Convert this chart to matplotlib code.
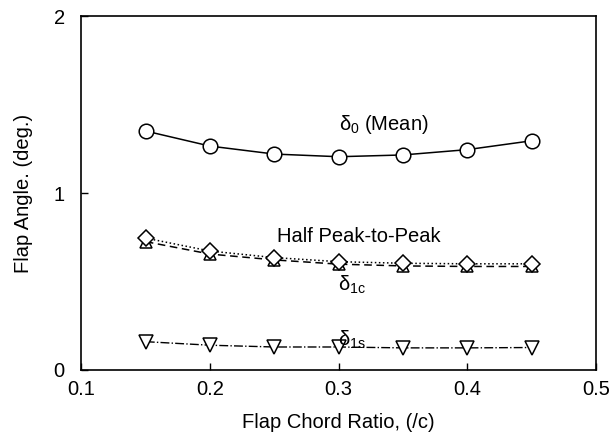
import matplotlib.pyplot as plt
import numpy as np

plt.rcParams['font.family'] = ['Liberation Sans', 'DejaVu Sans']
plt.rcParams['mathtext.fontset'] = 'custom'
plt.rcParams['mathtext.rm'] = 'Liberation Sans'
plt.rcParams['mathtext.it'] = 'Liberation Sans'

# flap chord ratio
ratio = [0.15, 0.20, 0.25, 0.30, 0.35, 0.40, 0.45]
# flap angles (deg.)
mean = [1.35, 1.265, 1.22, 1.205, 1.215, 1.245, 1.295]
amp_p2p = [0.745, 0.672, 0.635, 0.612, 0.603, 0.600, 0.600]
d1c = [0.725, 0.655, 0.622, 0.598, 0.588, 0.585, 0.585]
d1s = [0.16, 0.14, 0.13, 0.13, 0.125, 0.125, 0.127]

fig = plt.figure(figsize=(6.16, 4.41), dpi=100)
ax = fig.add_axes([0.1323, 0.161, 0.835, 0.8027])

ax.plot(ratio, mean, '-', color='k', lw=1.1, marker='o', ms=10.5,
        mfc='white', mec='k', mew=1.1, zorder=3)
ax.plot(ratio, d1c, '--', color='k', lw=1.1, marker='^', ms=8,
        mfc='white', mec='k', mew=1.1, zorder=3, dashes=(5, 3))
ax.plot(ratio, amp_p2p, ':', color='k', lw=1.1, marker='D', ms=8,
        mfc='white', mec='k', mew=1.1, zorder=4)
ax.plot(ratio, d1s, '-.', color='k', lw=1.0, marker='v', ms=9.5,
        mfc='white', mec='k', mew=1.1, zorder=3)

fs = 14.5
ax.text(0.335, 1.385, r'$\delta_0$ (Mean)', fontsize=fs, ha='center', va='center')
ax.text(0.316, 0.755, 'Half Peak-to-Peak', fontsize=fs, ha='center', va='center')
ax.text(0.31, 0.48, r'$\delta_{1c}$', fontsize=fs, ha='center', va='center')
ax.text(0.31, 0.17, r'$\delta_{1s}$', fontsize=fs, ha='center', va='center')

ax.set_xlim(0.1, 0.5)
ax.set_ylim(0, 2)
ax.set_xticks([0.1, 0.2, 0.3, 0.4, 0.5])
ax.set_xticklabels(['0.1', '0.2', '0.3', '0.4', '0.5'])
ax.set_yticks([0, 1, 2])
ax.tick_params(direction='in', length=5, width=1, labelsize=fs)
ax.tick_params(axis='x', pad=7)
ax.tick_params(axis='y', pad=12)
for s in ax.spines.values():
    s.set_linewidth(1.2)

ax.set_xlabel('Flap Chord Ratio, (/c)', fontsize=fs, va='center')
ax.set_ylabel('Flap Angle. (deg.)', fontsize=fs, va='center')
ax.xaxis.set_label_coords(0.5, -0.147)
ax.yaxis.set_label_coords(-0.112, 0.5)

fig.savefig('out.png', dpi=100)
